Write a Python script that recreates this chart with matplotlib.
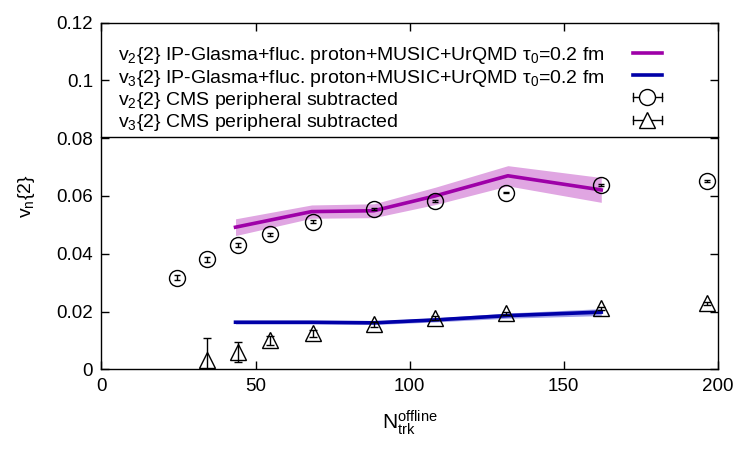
import matplotlib
matplotlib.use("Agg")
import matplotlib.pyplot as plt
import numpy as np

plt.rcParams['font.family'] = ['Liberation Sans', 'DejaVu Sans']
plt.rcParams['mathtext.fontset'] = 'custom'
plt.rcParams['mathtext.rm'] = 'Liberation Sans'
plt.rcParams['mathtext.it'] = 'Liberation Sans'
plt.rcParams['mathtext.bf'] = 'Liberation Sans:bold'

# CMS data (peripheral subtracted)
n_v2 = [24.4, 34.4, 44.4, 54.6, 68.7, 88.4, 108.2, 131.4, 162.2, 196.5]
v2_cms = [0.0317, 0.0381, 0.0430, 0.0467, 0.0511, 0.0556, 0.0583, 0.0612, 0.0638, 0.0653]
v2_cms_err = [0.0008, 0.0008, 0.0007, 0.0006, 0.0005, 0.0004, 0.0003, 0.0003, 0.0003, 0.0003]

n_v3 = [34.4, 44.4, 54.6, 68.7, 88.4, 108.2, 131.4, 162.2, 196.5]
v3_cms = [0.0032, 0.0061, 0.0100, 0.0125, 0.0156, 0.0177, 0.0194, 0.0211, 0.0228]
v3_cms_err = [0.0075, 0.0035, 0.0015, 0.0012, 0.0008, 0.0006, 0.0005, 0.0005, 0.0005]

# IP-Glasma + MUSIC + UrQMD model
n_model = [43.5, 68.2, 88.4, 108.2, 131.9, 162.2]
v2_model = [0.0492, 0.0546, 0.0549, 0.0600, 0.0670, 0.0621]
v2_model_err = [0.0029, 0.0023, 0.0024, 0.0030, 0.0035, 0.0043]
v3_model = [0.0163, 0.0163, 0.0161, 0.0171, 0.0186, 0.0198]
v3_model_err = [0.0006, 0.0006, 0.0006, 0.0007, 0.0009, 0.0012]

labels = [r"v$_2${2} IP-Glasma+fluc. proton+MUSIC+UrQMD τ$_0$=0.2 fm",
          r"v$_3${2} IP-Glasma+fluc. proton+MUSIC+UrQMD τ$_0$=0.2 fm",
          r"v$_2${2} CMS peripheral subtracted",
          r"v$_3${2} CMS peripheral subtracted"]

c_v2 = '#9e00a8'
c_v2_band = '#e0a6e2'
c_v3 = '#0000a8'
c_v3_band = '#a0a0e8'

fig = plt.figure(figsize=(7.5, 4.5), dpi=100)
ax = fig.add_axes([0.1353, 0.1793, 0.8217, 0.7703])

nm = np.array(n_model)
ax.fill_between(nm, np.array(v2_model) - v2_model_err, np.array(v2_model) + v2_model_err,
                color=c_v2_band, lw=0, zorder=1)
ax.plot(nm, v2_model, color=c_v2, lw=2.6, zorder=2)
ax.fill_between(nm, np.array(v3_model) - v3_model_err, np.array(v3_model) + v3_model_err,
                color=c_v3_band, lw=0, zorder=1)
ax.plot(nm, v3_model, color=c_v3, lw=2.6, zorder=2)

ax.errorbar(n_v2, v2_cms, yerr=v2_cms_err, fmt='o', mfc='none', mec='black', ecolor='black',
            ms=11.5, mew=1.0, elinewidth=1.0, capsize=2.5, capthick=1.0, zorder=3)
ax.errorbar(n_v3, v3_cms, yerr=v3_cms_err, fmt='^', mfc='none', mec='black', ecolor='black',
            ms=11, mew=1.0, elinewidth=1.0, capsize=3, capthick=1.0, zorder=3)

ax.set_xlim(0, 200)
ax.set_ylim(0, 0.12)
ax.set_xticks([0, 50, 100, 150, 200])
ax.set_yticks([0, 0.02, 0.04, 0.06, 0.08, 0.1, 0.12])
ax.set_yticklabels(['0', '0.02', '0.04', '0.06', '0.08', '0.1', '0.12'])
ax.tick_params(direction='in', length=6, width=1, top=True, right=True, labelsize=13.5, pad=6)
for s in ax.spines.values():
    s.set_linewidth(1.0)

ax.set_xlabel(r"N$_{\mathrm{trk}}^{\mathrm{offline}}$", fontsize=15, labelpad=10)
ax.set_ylabel(r"v$_\mathrm{n}${2}", fontsize=14, labelpad=14)

# legend box (gnuplot-style)
box_bottom = 0.669
ax.plot([0, 1], [box_bottom, box_bottom], transform=ax.transAxes, color='black', lw=1.0,
        clip_on=False, zorder=5)
rows = [0.913, 0.849, 0.785, 0.720]
tx = 0.027
sx0, sx1 = 0.862, 0.910
for lab, ry in zip(labels, rows):
    ax.text(tx, ry, lab, transform=ax.transAxes, fontsize=14, va='center_baseline', ha='left')
ax.plot([sx0, sx1], [rows[0], rows[0]], transform=ax.transAxes, color=c_v2, lw=2.6)
ax.plot([sx0, sx1], [rows[1], rows[1]], transform=ax.transAxes, color=c_v3, lw=2.6)
xm = (sx0 + sx1) / 2
for ry, mk, ms in [(rows[2], 'o', 11.5), (rows[3], '^', 11)]:
    ax.plot([sx0, sx1], [ry, ry], transform=ax.transAxes, color='black', lw=1.0)
    ax.plot([sx0, sx0], [ry - 0.012, ry + 0.012], transform=ax.transAxes, color='black', lw=1.0)
    ax.plot([sx1, sx1], [ry - 0.012, ry + 0.012], transform=ax.transAxes, color='black', lw=1.0)
    ax.plot([xm], [ry], marker=mk, ms=ms, mfc='white', mec='black', mew=1.0,
            transform=ax.transAxes, ls='none')

fig.savefig('out.png', dpi=100)
